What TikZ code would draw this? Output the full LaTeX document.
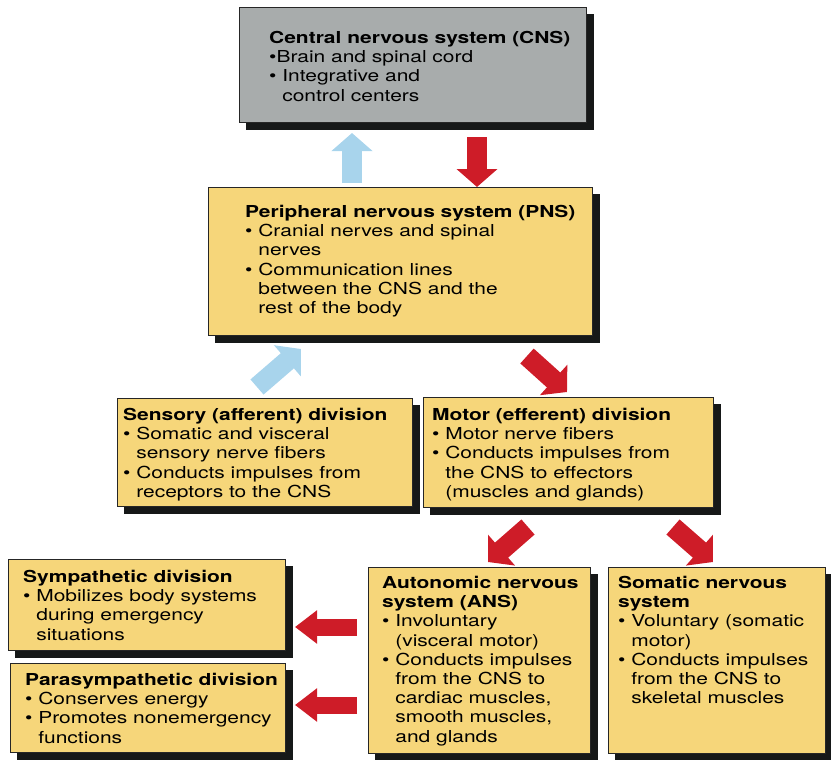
\documentclass[tikz,border=0pt]{standalone}
\usepackage{fontspec}
\setmainfont{TeX Gyre Heros}[FakeStretch=1.27]
\usetikzlibrary{arrows.meta,backgrounds}

\definecolor{cnsgray}{RGB}{168,172,172}
\definecolor{pnsyellow}{RGB}{246,214,122}
\definecolor{flowred}{RGB}{206,28,40}
\definecolor{flowblue}{RGB}{168,212,236}
\definecolor{shadowgray}{RGB}{22,24,24}

\newcommand{\dotitem}{\textbullet\ }
\newcommand{\dotgap}{\hphantom{\textbullet\ }}

\begin{document}
\begin{tikzpicture}[x=1pt,y=-1pt,
    box/.style={draw=black!85,line width=1.3pt,fill=pnsyellow,anchor=north west,inner sep=0pt},
    boxtext/.style={anchor=north west,align=left,inner sep=0pt,font=\fontsize{16.5}{19.2}\selectfont},
    redflow/.style={draw=flowred,line width=20pt,-{Triangle[width=40pt,length=18pt]}},
    blueflow/.style={draw=flowblue,line width=20pt,-{Triangle[width=40pt,length=18pt]}},
    sideflow/.style={draw=flowred,line width=17pt,-{Triangle[width=32pt,length=22pt]}}]

      \useasboundingbox (0,0) rectangle (831,760);

      \begin{scope}[every node/.style={box}]
        \node[fill=cnsgray,minimum width=347pt,minimum height=115pt] (cns)  at (239,7)   {};
        \node[minimum width=384pt,minimum height=148pt] (pns)  at (208,187) {};
        \node[minimum width=295pt,minimum height=108pt] (sens) at (117,398) {};
        \node[minimum width=290pt,minimum height=110pt] (mot)  at (423,397) {};
        \node[minimum width=277pt,minimum height=91pt]  (symp) at (8,559)   {};
        \node[minimum width=275pt,minimum height=89pt]  (para) at (10,663)  {};
        \node[minimum width=222pt,minimum height=186pt] (ans)  at (368,567) {};
        \node[minimum width=217pt,minimum height=186pt] (som)  at (608,567) {};
      \end{scope}

      \begin{scope}[on background layer]
        \foreach \b in {cns,pns,sens,mot,symp,para,ans,som}
          \fill[shadowgray] ([shift={(7,7)}]\b.north west) rectangle ([shift={(7,7)}]\b.south east);
      \end{scope}

      \begin{scope}[every node/.style={boxtext}]
        \node (cnstext)  at (269,31)  {\textbf{Central nervous system (CNS)}\\
          \textbullet Brain and spinal cord\\
          \dotitem Integrative and\\
          \dotgap control centers};
        \node (pnstext)  at (245,205) {\textbf{Peripheral nervous system (PNS)}\\
          \dotitem Cranial nerves and spinal\\
          \dotgap nerves\\
          \dotitem Communication lines\\
          \dotgap between the CNS and the\\
          \dotgap rest of the body};
        \node (senstext) at (123,408) {\textbf{Sensory (afferent) division}\\
          \dotitem Somatic and visceral\\
          \dotgap sensory nerve fibers\\
          \dotitem Conducts impulses from\\
          \dotgap receptors to the CNS};
        \node (mottext)  at (432,408) {\textbf{Motor (efferent) division}\\
          \dotitem Motor nerve fibers\\
          \dotitem Conducts impulses from\\
          \dotgap the CNS to effectors\\
          \dotgap (muscles and glands)};
        \node (symptext) at (23,570)  {\textbf{Sympathetic division}\\
          \dotitem Mobilizes body systems\\
          \dotgap during emergency\\
          \dotgap situations};
        \node (paratext) at (25,673)  {\textbf{Parasympathetic division}\\
          \dotitem Conserves energy\\
          \dotitem Promotes nonemergency\\
          \dotgap functions};
        \node (anstext)  at (382,576) {\textbf{Autonomic nervous}\\
          \textbf{system (ANS)}\\
          \dotitem Involuntary\\
          \dotgap (visceral motor)\\
          \dotitem Conducts impulses\\
          \dotgap from the CNS to\\
          \dotgap cardiac muscles,\\
          \dotgap smooth muscles,\\
          \dotgap and glands};
        \node (somtext)  at (618,576) {\textbf{Somatic nervous}\\
          \textbf{system}\\
          \dotitem Voluntary (somatic\\
          \dotgap motor)\\
          \dotitem Conducts impulses\\
          \dotgap from the CNS to\\
          \dotgap skeletal muscles};
      \end{scope}

      \coordinate (up1)   at (352,183);  \coordinate (up1e)   at (352,133);
      \coordinate (down1) at (477,137);  \coordinate (down1e) at (477,187);
      \coordinate (up2)   at (257,387);  \coordinate (up2e)   at (301,349);
      \coordinate (down2) at (527,356);  \coordinate (down2e) at (567,392);
      \coordinate (down3) at (528,527);  \coordinate (down3e) at (488,562);
      \coordinate (down4) at (673,527);  \coordinate (down4e) at (713,562);
      \coordinate (side1) at (357,627);  \coordinate (side1e) at (295,627);
      \coordinate (side2) at (357,705);  \coordinate (side2e) at (295,705);

      \draw[blueflow] (up1)   -- (up1e);
      \draw[redflow]  (down1) -- (down1e);
      \draw[blueflow] (up2)   -- (up2e);
      \draw[redflow]  (down2) -- (down2e);
      \draw[redflow]  (down3) -- (down3e);
      \draw[redflow]  (down4) -- (down4e);
      \draw[sideflow] (side1) -- (side1e);
      \draw[sideflow] (side2) -- (side2e);

    \end{tikzpicture}
\end{document}
